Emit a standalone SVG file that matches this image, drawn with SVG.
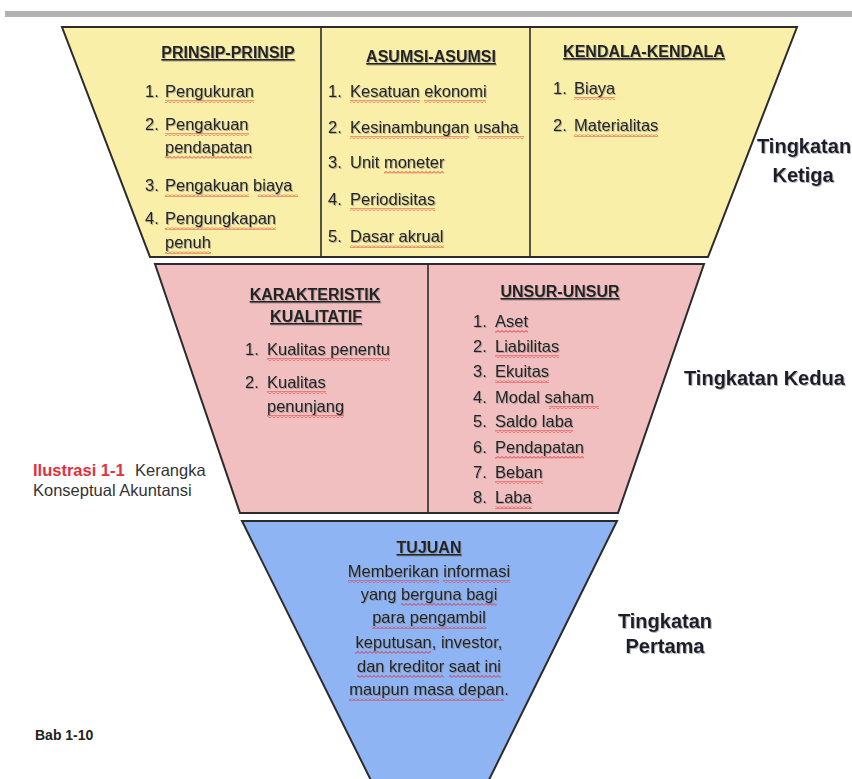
<svg xmlns="http://www.w3.org/2000/svg" width="852" height="779" viewBox="0 0 852 779">
<defs>
<pattern id="sq" width="4" height="3" patternUnits="userSpaceOnUse">
<polyline points="0,2.6 2,0.4 4,2.6" fill="none" stroke="#e0282a" stroke-width="0.9"/>
</pattern>
<filter id="sh" x="-5%" y="-20%" width="110%" height="140%">
<feDropShadow dx="1" dy="1" stdDeviation="0.6" flood-color="#777" flood-opacity="0.55"/>
</filter>
</defs>
<style>
.shape{stroke:#2b2b2b;stroke-width:2;stroke-linejoin:miter}
.div{stroke:#2b2b2b;stroke-width:1.6}
.hd{font-family:"Liberation Sans",Arial,sans-serif;font-size:16px;font-weight:bold;fill:#222;text-decoration:underline}
.it{font-family:"Liberation Sans",Arial,sans-serif;font-size:16.5px;fill:#222}
.tl{font-family:"Liberation Sans",Arial,sans-serif;font-size:20px;font-weight:bold;fill:#1c1c2c}
.cap{font-family:"Liberation Sans",Arial,sans-serif;font-size:16.5px;fill:#333}
.sq{fill:url(#sq)}
.txt{filter:url(#sh)}
</style>
<rect x="5" y="11" width="847" height="6" fill="#b2b2b2"/>

<g id="tingkatan-ketiga">
<polygon class="shape" points="62,27 797,27 708,257 150,257" fill="#faefa8"/>
<line class="div" x1="321" y1="27" x2="321" y2="257"/>
<line class="div" x1="530" y1="27" x2="530" y2="257"/>
<g id="prinsip" class="txt">
<text class="hd" x="228" y="58" text-anchor="middle">PRINSIP-PRINSIP</text>
<text class="it" x="145" y="97">1.</text><text class="it" x="165" y="97">Pengukuran</text>
<text class="it" x="145" y="130">2.</text><text class="it" x="165" y="130">Pengakuan</text>
<text class="it" x="165" y="153">pendapatan</text>
<text class="it" x="145" y="191">3.</text><text class="it" x="165" y="191">Pengakuan  biaya</text>
<text class="it" x="145" y="224">4.</text><text class="it" x="165" y="224">Pengungkapan</text>
<text class="it" x="165" y="248">penuh</text>
</g>
<g id="asumsi" class="txt">
<text class="hd" x="431" y="62" text-anchor="middle">ASUMSI-ASUMSI</text>
<text class="it" x="328" y="97">1.</text><text class="it" x="350" y="97">Kesatuan ekonomi</text>
<text class="it" x="328" y="133">2.</text><text class="it" x="350" y="133">Kesinambungan  usaha</text>
<text class="it" x="328" y="168">3.</text><text class="it" x="350" y="168">Unit moneter</text>
<text class="it" x="328" y="205">4.</text><text class="it" x="350" y="205">Periodisitas</text>
<text class="it" x="328" y="242">5.</text><text class="it" x="350" y="242">Dasar akrual</text>
</g>
<g id="kendala" class="txt">
<text class="hd" x="644" y="57" text-anchor="middle">KENDALA-KENDALA</text>
<text class="it" x="553" y="94">1.</text><text class="it" x="574" y="94">Biaya</text>
<text class="it" x="553" y="131">2.</text><text class="it" x="574" y="131">Materialitas</text>
</g>
<g id="squiggles-3">
<rect class="sq" x="165" y="100" width="89" height="3"/>
<rect class="sq" x="165" y="133" width="84" height="3"/>
<rect class="sq" x="165" y="156" width="87" height="3"/>
<rect class="sq" x="165" y="194" width="84" height="3"/>
<rect class="sq" x="258" y="194" width="40" height="3"/>
<rect class="sq" x="165" y="227" width="111" height="3"/>
<rect class="sq" x="165" y="251" width="46" height="3"/>
<rect class="sq" x="350" y="100" width="70" height="3"/>
<rect class="sq" x="424" y="100" width="62" height="3"/>
<rect class="sq" x="350" y="136" width="119" height="3"/>
<rect class="sq" x="478" y="136" width="46" height="3"/>
<rect class="sq" x="384" y="171" width="60" height="3"/>
<rect class="sq" x="350" y="208" width="85" height="3"/>
<rect class="sq" x="350" y="245" width="94" height="3"/>
<rect class="sq" x="574" y="97" width="41" height="3"/>
<rect class="sq" x="574" y="134" width="84" height="3"/>
</g>
</g>

<g id="tingkatan-kedua">
<polygon class="shape" points="155,264 704,264 618,513 240,513" fill="#f2bfc0"/>
<line class="div" x1="428" y1="264" x2="428" y2="513"/>
<g id="karakteristik" class="txt">
<text class="hd" x="315" y="300" text-anchor="middle">KARAKTERISTIK</text>
<text class="hd" x="316" y="322" text-anchor="middle">KUALITATIF</text>
<text class="it" x="245" y="355">1.</text><text class="it" x="267" y="355">Kualitas penentu</text>
<text class="it" x="245" y="388">2.</text><text class="it" x="267" y="388">Kualitas</text>
<text class="it" x="267" y="412">penunjang</text>
</g>
<g id="unsur" class="txt">
<text class="hd" x="560" y="297" text-anchor="middle">UNSUR-UNSUR</text>
<text class="it" x="473" y="327">1.</text><text class="it" x="495" y="327">Aset</text>
<text class="it" x="473" y="352">2.</text><text class="it" x="495" y="352">Liabilitas</text>
<text class="it" x="473" y="377">3.</text><text class="it" x="495" y="377">Ekuitas</text>
<text class="it" x="473" y="403">4.</text><text class="it" x="495" y="403">Modal  saham</text>
<text class="it" x="473" y="427">5.</text><text class="it" x="495" y="427">Saldo laba</text>
<text class="it" x="473" y="453">6.</text><text class="it" x="495" y="453">Pendapatan</text>
<text class="it" x="473" y="478">7.</text><text class="it" x="495" y="478">Beban</text>
<text class="it" x="473" y="503">8.</text><text class="it" x="495" y="503">Laba</text>
</g>
<g id="squiggles-2">
<rect class="sq" x="267" y="358" width="123" height="3"/>
<rect class="sq" x="267" y="391" width="59" height="3"/>
<rect class="sq" x="267" y="415" width="77" height="3"/>
<rect class="sq" x="495" y="330" width="33" height="3"/>
<rect class="sq" x="495" y="355" width="64" height="3"/>
<rect class="sq" x="495" y="380" width="54" height="3"/>
<rect class="sq" x="549" y="406" width="50" height="3"/>
<rect class="sq" x="495" y="430" width="78" height="3"/>
<rect class="sq" x="495" y="456" width="89" height="3"/>
<rect class="sq" x="495" y="481" width="48" height="3"/>
<rect class="sq" x="495" y="506" width="37" height="3"/>
</g>
</g>

<g id="tingkatan-pertama">
<polygon class="shape" points="242,521 617,521 430,899" fill="#8eb4f3"/>
<g id="tujuan" class="txt">
<text class="hd" x="429" y="553" text-anchor="middle">TUJUAN</text>
<text class="it" x="429" y="577" text-anchor="middle">Memberikan informasi</text>
<text class="it" x="429" y="600" text-anchor="middle">yang berguna bagi</text>
<text class="it" x="429" y="623" text-anchor="middle">para pengambil</text>
<text class="it" x="429" y="648" text-anchor="middle">keputusan, investor,</text>
<text class="it" x="429" y="672" text-anchor="middle">dan kreditor saat ini</text>
<text class="it" x="429" y="695" text-anchor="middle">maupun masa depan.</text>
</g>
<g id="squiggles-1">
<rect class="sq" x="348" y="580" width="91" height="3"/>
<rect class="sq" x="443" y="580" width="67" height="3"/>
<rect class="sq" x="401" y="603" width="96" height="3"/>
<rect class="sq" x="372" y="626" width="114" height="3"/>
<rect class="sq" x="355" y="651" width="76" height="3"/>
<rect class="sq" x="357" y="675" width="87" height="3"/>
<rect class="sq" x="449" y="675" width="52" height="3"/>
<rect class="sq" x="349" y="698" width="155" height="3"/>
</g>
</g>

<g id="label-ketiga" class="txt">
<text class="tl" x="757" y="153">Tingkatan</text>
<text class="tl" x="803" y="182" text-anchor="middle">Ketiga</text>
</g>
<g id="label-kedua" class="txt">
<text class="tl" x="684" y="385">Tingkatan Kedua</text>
</g>
<g id="label-pertama" class="txt">
<text class="tl" x="665" y="628" text-anchor="middle">Tingkatan</text>
<text class="tl" x="665" y="653" text-anchor="middle">Pertama</text>
</g>
<g id="ilustrasi">
<text class="cap" x="33" y="476" style="fill:#e3303c;font-weight:bold">Ilustrasi 1-1</text>
<text class="cap" x="135" y="476">Kerangka</text>
<text class="cap" x="33" y="496">Konseptual Akuntansi</text>
</g>
<g id="bab">
<text x="35" y="740" style="font-family:'Liberation Sans',Arial,sans-serif;font-size:14px;font-weight:bold;fill:#222">Bab 1-10</text>
</g>
</svg>
